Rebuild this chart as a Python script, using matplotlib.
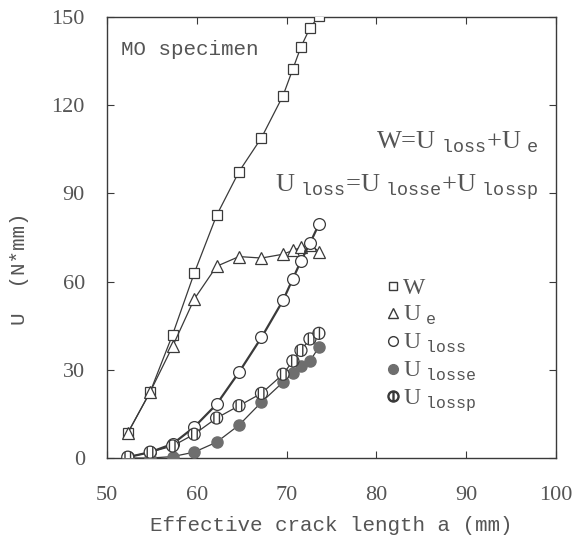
import matplotlib
matplotlib.use('Agg')
import matplotlib.pyplot as plt
from matplotlib.lines import Line2D

plt.rcParams['font.family'] = 'Liberation Serif'
plt.rcParams['mathtext.fontset'] = 'custom'
plt.rcParams['mathtext.rm'] = 'Liberation Serif'
plt.rcParams['mathtext.tt'] = 'Liberation Mono'

# crack length (mm)
a = [52.3, 54.8, 57.3, 59.7, 62.2, 64.7, 67.2, 69.6, 70.7, 71.6, 72.6, 73.6]
W = [8.5, 22.5, 42.0, 62.8, 82.5, 97.4, 108.9, 123.2, 132.3, 139.8, 146.2, 150.3]
U_e = [8.5, 22.5, 38.0, 54.0, 65.2, 68.5, 68.0, 69.3, 70.6, 71.6, 72.6, 70.2]
U_loss = [0.3, 2.0, 4.8, 10.5, 18.3, 29.2, 41.0, 53.6, 61.0, 67.0, 73.0, 79.5]
U_losse = [0.0, 0.0, 0.5, 2.0, 5.4, 11.2, 19.0, 25.8, 29.0, 31.3, 33.0, 37.7]
U_lossp = [0.3, 2.0, 4.1, 8.1, 13.6, 17.8, 22.0, 28.5, 33.0, 36.6, 40.5, 42.4]

xticks = [50, 60, 70, 80, 90, 100]
yticks = [0, 30, 60, 90, 120, 150]

ink = '#3a3a3a'
txt = '#555555'
mono = 'Liberation Mono'

fig = plt.figure(figsize=(5.79, 5.44), dpi=100)
ax = fig.add_axes([0.185, 0.158, 0.775, 0.811])

ax.plot(a, W, color=ink, lw=0.9, marker='s', ms=7.5, mfc='white', mec=ink, mew=0.9, zorder=3)
ax.plot(a, U_e, color=ink, lw=0.9, marker='^', ms=8.5, mfc='white', mec=ink, mew=0.9, zorder=3)
ax.plot(a, U_loss, color=ink, lw=1.6, marker='o', ms=8.5, mfc='white', mec=ink, mew=0.9, zorder=3)
ax.plot(a, U_losse, color=ink, lw=0.9, marker='o', ms=8, mfc='#6e6e6e', mec='#6e6e6e', zorder=3)
ax.plot(a, U_lossp, color=ink, lw=0.9, zorder=3)
ax.scatter(a, U_lossp, s=75, facecolor='white', edgecolor=ink, linewidth=0.9, hatch='|||', zorder=4)

ax.set_xlim(50, 100)
ax.set_ylim(0, 150)
ax.set_xticks(xticks)
ax.set_yticks(yticks)
ax.tick_params(direction='in', top=True, right=True, length=5, width=0.8, color=ink,
               labelsize=16, labelcolor=txt)
ax.tick_params(axis='x', pad=20)
ax.tick_params(axis='y', pad=16)
for s in ax.spines.values():
    s.set_color(ink)
    s.set_linewidth(1.0)

ax.set_xlabel('Effective crack length a (mm)', fontsize=15, color=txt, labelpad=8, family=mono)
ax.set_ylabel('U  (N*mm)', fontsize=15, color=txt, family=mono)
ax.yaxis.set_label_coords(-0.175, 0.43)

ax.text(51.5, 139, 'MO specimen', fontsize=15, color=txt, family=mono, va='center')
ax.text(98.0, 107.5, r'W=U$_{\ \mathtt{loss}}$+U$_{\ \mathtt{e}}$', fontsize=19, color=txt,
        ha='right', va='center')
ax.text(98.0, 92.3, r'U$_{\ \mathtt{loss}}$=U$_{\ \mathtt{losse}}$+U$_{\ \mathtt{lossp}}$', fontsize=19,
        color=txt, ha='right', va='center')

handles = [
    Line2D([], [], ls='none', marker='s', ms=6, mfc='white', mec=ink),
    Line2D([], [], ls='none', marker='^', ms=7, mfc='white', mec=ink),
    Line2D([], [], ls='none', marker='o', ms=7, mfc='white', mec=ink),
    Line2D([], [], ls='none', marker='o', ms=7, mfc='#6e6e6e', mec='#6e6e6e'),
    Line2D([], [], ls='none', marker='$\u29B6$', ms=8, color=ink),
]
labels = [r'W', r'U$_{\ \mathtt{e}}$', r'U$_{\ \mathtt{loss}}$', r'U$_{\ \mathtt{losse}}$', r'U$_{\ \mathtt{lossp}}$']
leg = ax.legend(handles, labels, loc='upper left', bbox_to_anchor=(0.573, 0.457), frameon=False,
                fontsize=17, handlelength=0.6, handletextpad=0.15, labelspacing=0.2, labelcolor=txt)

fig.savefig('out.png', dpi=100)
